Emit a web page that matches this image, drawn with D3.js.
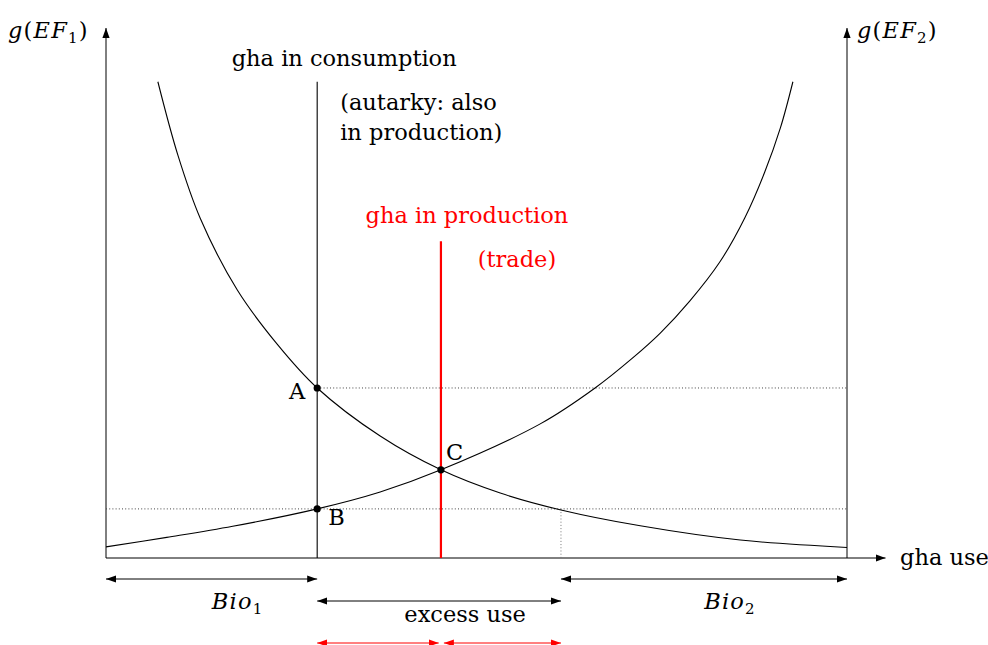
<!DOCTYPE html>
<html>
<head>
<meta charset="utf-8">
<script src="https://cdn.jsdelivr.net/npm/d3@7"></script>
<style>
  body { margin: 0; background: #fff; }
  svg text { font-family: "DejaVu Serif", serif; font-size: 22.5px; fill: #000; }
  svg text.math { letter-spacing: 1.2px; }
</style>
</head>
<body>
<svg width="988" height="645"></svg>
<script>
// g(EF1), read against the left axis (falls to the right)
var ef1Curve = [
  [0.70, 9.02], [0.97, 7.63], [1.27, 6.44], [1.77, 5.08], [2.31, 4.05],
  [2.85, 3.22], [3.70, 2.31], [4.52, 1.67], [5.32, 1.23], [6.14, 0.91],
  [7.21, 0.61], [8.56, 0.34], [10.0, 0.20]
];
// g(EF2), read against the right axis (rises to the right)
var ef2Curve = [
  [0.00, 0.21], [0.82, 0.39], [1.71, 0.60], [2.85, 0.93], [3.70, 1.25],
  [4.52, 1.67], [5.86, 2.54], [6.60, 3.22], [7.10, 3.78], [7.48, 4.26],
  [7.88, 4.87], [8.29, 5.62], [8.62, 6.44], [8.89, 7.31], [9.10, 8.14],
  [9.27, 9.02]
];
var consumption = {x: 2.85, top: 9.02};
var production = {x: 4.52, top: 6.00};
var points = [
  {name: 'A', x: 2.85, y: 3.22},
  {name: 'B', x: 2.85, y: 0.93},
  {name: 'C', x: 4.52, y: 1.67}
];
var levels = [3.22, 0.93];     // dotted horizontals (A and B)
var dropX = 6.14;              // where g(EF1) meets level B
var spans = [
  {from: 0, to: 2.85, row: 0, label: ['Bio', '1']},
  {from: 6.14, to: 10, row: 0, label: ['Bio', '2']},
  {from: 2.85, to: 6.14, row: 1, label: 'excess use'}
];
var redSpans = [[2.85, 4.49], [4.56, 6.14]];

var svg = d3.select('svg');
var x = d3.scaleLinear().domain([0, 10]).range([106, 847]);
var y = d3.scaleLinear().domain([0, 10]).range([558, 30]);

var defs = svg.append('defs');
[['arrow', '#000'], ['arrowRed', '#f00']].forEach(function(m) {
  defs.append('marker')
    .attr('id', m[0])
    .attr('viewBox', '0 -4 10 8')
    .attr('refX', 10).attr('refY', 0)
    .attr('markerWidth', 10).attr('markerHeight', 8)
    .attr('markerUnits', 'userSpaceOnUse')
    .attr('orient', 'auto-start-reverse')
    .append('path')
    .attr('d', 'M0,-3.6 L10,0 L0,3.6 Z')
    .attr('fill', m[1]);
});

// axes
svg.append('line')
  .attr('x1', x(0)).attr('y1', y(0)).attr('x2', x(0)).attr('y2', y(10) - 2)
  .attr('stroke', '#000').attr('marker-end', 'url(#arrow)');
svg.append('line')
  .attr('x1', x(10)).attr('y1', y(0)).attr('x2', x(10)).attr('y2', y(10) - 2)
  .attr('stroke', '#000').attr('marker-end', 'url(#arrow)');
svg.append('line')
  .attr('x1', x(0)).attr('y1', y(0)).attr('x2', x(10.52)).attr('y2', y(0))
  .attr('stroke', '#000').attr('marker-end', 'url(#arrow)');

// dotted guides
svg.selectAll('.level').data(levels).enter().append('line')
  .attr('x1', function(d, i) { return i == 0 ? x(consumption.x) : x(0); })
  .attr('x2', x(10))
  .attr('y1', function(d) { return y(d); })
  .attr('y2', function(d) { return y(d); })
  .attr('stroke', '#444').attr('stroke-dasharray', '1,2.2');
svg.append('line')
  .attr('x1', x(dropX)).attr('x2', x(dropX))
  .attr('y1', y(levels[1])).attr('y2', y(0))
  .attr('stroke', '#777').attr('stroke-dasharray', '1,2.2');

// curves
var line = d3.line()
  .x(function(d) { return x(d[0]); })
  .y(function(d) { return y(d[1]); })
  .curve(d3.curveCatmullRom.alpha(0.5));
[ef1Curve, ef2Curve].forEach(function(c) {
  svg.append('path').attr('d', line(c))
    .attr('fill', 'none').attr('stroke', '#000').attr('stroke-width', 1.1);
});

// consumption and production lines
svg.append('line')
  .attr('x1', x(consumption.x)).attr('x2', x(consumption.x))
  .attr('y1', y(0)).attr('y2', y(consumption.top))
  .attr('stroke', '#000').attr('stroke-width', 1.1);
svg.append('line')
  .attr('x1', x(production.x)).attr('x2', x(production.x))
  .attr('y1', y(0)).attr('y2', y(production.top))
  .attr('stroke', '#f00').attr('stroke-width', 2.2);

// points
svg.selectAll('.pt').data(points).enter().append('circle')
  .attr('cx', function(d) { return x(d.x); })
  .attr('cy', function(d) { return y(d.y); })
  .attr('r', 3.6);
var labelOffset = {A: [-12, 11, 'end'], B: [11, 16, 'start'], C: [5, -10, 'start']};
svg.selectAll('.ptlabel').data(points).enter().append('text')
  .attr('x', function(d) { return x(d.x) + labelOffset[d.name][0]; })
  .attr('y', function(d) { return y(d.y) + labelOffset[d.name][1]; })
  .attr('text-anchor', function(d) { return labelOffset[d.name][2]; })
  .text(function(d) { return d.name; });

// math labels with subscripts
function mathLabel(sel, base, sub, paren) {
  sel.attr('class', 'math');
  if (paren) {
    sel.append('tspan').attr('font-style', 'italic').text('g');
    sel.append('tspan').text('(');
    sel.append('tspan').attr('font-style', 'italic').text(base);
    sel.append('tspan').attr('font-size', '15px').attr('dy', 5).text(sub);
    sel.append('tspan').attr('dy', -5).text(')');
  } else {
    sel.append('tspan').attr('font-style', 'italic').text(base);
    sel.append('tspan').attr('font-size', '15px').attr('dy', 5).text(sub);
  }
}
mathLabel(svg.append('text').attr('x', 8).attr('y', 38), 'EF', '1', true);
mathLabel(svg.append('text').attr('x', 857).attr('y', 38), 'EF', '2', true);
svg.append('text').attr('x', 900).attr('y', 565).text('gha use');

svg.append('text').attr('x', x(consumption.x) + 27).attr('y', 66)
  .attr('text-anchor', 'middle').text('gha in consumption');
svg.append('text').attr('x', x(consumption.x) + 23).attr('y', 110)
  .text('(autarky: also');
svg.append('text').attr('x', x(consumption.x) + 23).attr('y', 140)
  .text('in production)');
svg.append('text').attr('x', x(production.x) + 26).attr('y', 223)
  .attr('text-anchor', 'middle').style('fill', '#f00').text('gha in production');
svg.append('text').attr('x', x(production.x) + 76).attr('y', 267)
  .attr('text-anchor', 'middle').style('fill', '#f00').text('(trade)');

// span arrows
var rowY = [579, 601];
spans.forEach(function(s) {
  svg.append('line')
    .attr('x1', x(s.from)).attr('x2', x(s.to))
    .attr('y1', rowY[s.row]).attr('y2', rowY[s.row])
    .attr('stroke', '#000')
    .attr('marker-start', 'url(#arrow)').attr('marker-end', 'url(#arrow)');
  var t = svg.append('text')
    .attr('x', (x(s.from) + x(s.to)) / 2 + 26)
    .attr('y', s.row == 0 ? 609 : 622)
    .attr('text-anchor', 'middle');
  if (typeof s.label == 'string') t.text(s.label);
  else mathLabel(t, s.label[0], s.label[1], false);
});
redSpans.forEach(function(s) {
  svg.append('line')
    .attr('x1', x(s[0])).attr('x2', x(s[1]))
    .attr('y1', 643).attr('y2', 643)
    .attr('stroke', '#f00')
    .attr('marker-start', 'url(#arrowRed)').attr('marker-end', 'url(#arrowRed)');
});
</script>
</body>
</html>
